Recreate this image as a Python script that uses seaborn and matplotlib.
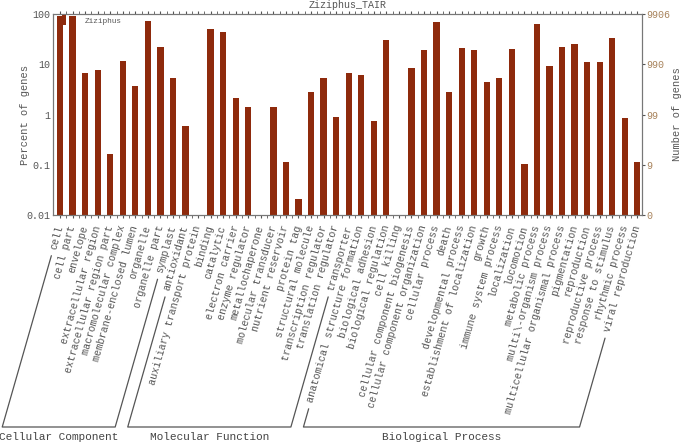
import numpy as np
import pandas as pd
import matplotlib
matplotlib.use("Agg")
import matplotlib.pyplot as plt
from matplotlib.patches import Patch
from matplotlib.lines import Line2D
import seaborn as sns

# GO terms per ontology and percent of genes
cc_terms = ["cell", "cell part", "envelope", "extracellular region",
            "extracellular region part", "macromolecular complex",
            "membrane-enclosed lumen", "organelle", "organelle part", "symplast"]
cc_pct = [92, 93, 6.8, 7.8, 0.167, 11.5, 3.65, 73.6, 22, 5.35]

mf_terms = ["antioxidant", "auxiliary transport protein", "binding", "catalytic",
            "electron carrier", "enzyme regulator", "metallochaperone",
            "molecular transducer", "nutrient reservoir", "protein tag",
            "structural molecule", "transcription regulator",
            "translation regulator", "transporter"]
mf_pct = [0.59, 0, 49.6, 43.9, 2.17, 1.4, 0, 1.42, 0.112, 0.0207, 2.85, 5.35,
          0.88, 6.8]

bp_terms = ["anatomical structure formation", "biological adhesion",
            "biological regulation", "cell killing",
            "cellular component biogenesis", "cellular component organization",
            "cellular process", "death", "developmental process",
            "establishment of localization", "growth", "immune system process",
            "localization", "locomotion", "metabolic process",
            "multi\\-organism process", "multicellular organismal process",
            "pigmentation", "reproduction", "reproductive process",
            "response to stimulus", "rhythmic process", "viral reproduction"]
bp_pct = [6.04, 0.746, 30, 0, 8.57, 19, 68, 2.77, 21.4, 19.2, 4.5, 5.35, 20.1,
          0.103, 63, 9.1, 22.4, 25.3, 11.1, 11.1, 32.9, 0.87, 0.112]

groups = ["Cellular Component", "Molecular Function", "Biological Process"]
total_genes = 9906
pct_ticks = [0.01, 0.1, 1, 10, 100]

terms = cc_terms + mf_terms + bp_terms
df = pd.DataFrame({"term": terms, "percent": cc_pct + mf_pct + bp_pct})
df_bars = df[df["percent"] > 0]

sns.set_style("ticks")
plt.rcParams["font.family"] = ["Liberation Mono", "DejaVu Sans Mono"]

bar_color = "#8e2a0c"
grey = "#555555"

fig = plt.figure(figsize=(6.85, 4.42), dpi=100)
ax = fig.add_axes([53 / 685, 1 - 215 / 442, 589 / 685, 201 / 442])

sns.barplot(data=df_bars, x="term", y="percent", order=terms, color=bar_color,
            saturation=1, width=0.5, ax=ax, edgecolor="none")
ax.set_yscale("log")

ax.set_ylim(0.01, 100)
ax.set_xlim(-0.56, len(terms) - 0.63)
ax.set_yticks(pct_ticks)
ax.set_yticklabels(["%g" % v for v in pct_ticks])
ax.yaxis.set_minor_locator(matplotlib.ticker.NullLocator())
ax.tick_params(axis="y", length=0, pad=2, labelsize=7.2, labelcolor=grey)
ax.set_ylabel("Percent of genes", fontsize=7.5, color=grey, labelpad=-3)
ax.set_xlabel("")

ax.set_xticks(range(len(terms)))
ax.set_xticks(np.arange(len(terms) - 1) + 0.5, minor=True)
ax.tick_params(axis="x", which="both", direction="out", length=2.5,
               color=grey, top=True, pad=5, labelsize=7.3, labelcolor=grey)
ax.set_xticklabels(terms, rotation=74, ha="right", va="center",
                   rotation_mode="anchor")
for sp in ax.spines.values():
    sp.set_color("#777777")
    sp.set_linewidth(0.8)

ax.set_title("Ziziphus_TAIR", fontsize=7.2, color=grey, pad=4)

ax.legend(handles=[Patch(facecolor=bar_color, edgecolor="none")],
          labels=["Ziziphus"], loc="upper left", bbox_to_anchor=(0.004, 1.03),
          frameon=False, fontsize=5.6, handlelength=0.5, handleheight=1.6,
          handletextpad=2.4, labelcolor=grey)

# right axis: number of genes
ax2 = ax.twinx()
ax2.set_yscale("log")
ax2.set_ylim(ax.get_ylim())
ax2.set_yticks(pct_ticks)
ax2.set_yticklabels([str(int(v * total_genes / 100)) for v in pct_ticks])
ax2.yaxis.set_minor_locator(matplotlib.ticker.NullLocator())
ax2.tick_params(axis="y", length=2, pad=1, labelsize=7.2,
                labelcolor="#a8835c", color=grey)
ax2.set_ylabel("Number of genes", fontsize=7.5, color=grey, labelpad=1)
for sp in ax2.spines.values():
    sp.set_color("#777777")
    sp.set_linewidth(0.8)

# group brackets continuing the label direction
fig.canvas.draw()
renderer = fig.canvas.get_renderer()
theta = np.deg2rad(74)
d = np.array([np.cos(theta), np.sin(theta)])
y_base = 442 - 427
gap = 7
labels = ax.get_xticklabels()
sizes = [len(cc_terms), len(mf_terms), len(bp_terms)]
start = 0
for name, n in zip(groups, sizes):
    ends = []
    for idx in (start, start + n - 1):
        lab = labels[idx]
        anchor = np.array(lab.get_transform().transform(lab.get_position()))
        w, _, _ = renderer.get_text_width_height_descent(
            lab.get_text(), lab.get_fontproperties(), ismath=False)
        p0 = anchor - (w + gap) * d
        x1 = p0[0] - (p0[1] - y_base) / np.tan(theta)
        ends.append((p0, x1))
    (pa, xa), (pb, xb) = ends
    fig.add_artist(Line2D([pa[0], xa, xb, pb[0]],
                          [pa[1], y_base, y_base, pb[1]],
                          transform=None, color="#555555", lw=0.9))
    fig.text((xa + xb) / 2 / 685, 5 / 442, name, ha="center", va="center",
             fontsize=8, color="#444444")
    start += n

fig.savefig("out.png", dpi=100)
